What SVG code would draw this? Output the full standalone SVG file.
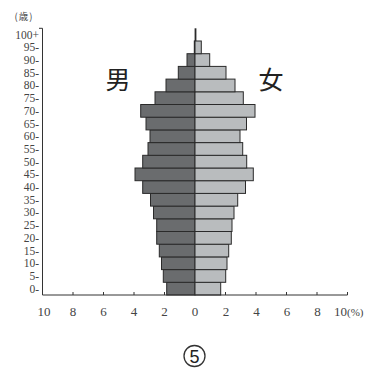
<svg xmlns="http://www.w3.org/2000/svg" width="372" height="374" viewBox="0 0 372 374">
<style>
.m{fill:#6a6c6e;stroke:#2a2a2a;stroke-width:1}
.f{fill:#b9bcbe;stroke:#2a2a2a;stroke-width:1}
.ax{stroke:#333;stroke-width:1;fill:none}
.age{font-family:"Liberation Serif",serif;font-size:11.5px;fill:#444;text-anchor:end}
.xl{font-family:"Liberation Serif",serif;font-size:13px;fill:#444;text-anchor:middle}
.big{font-family:"Noto Sans CJK JP",sans-serif;font-size:25px;fill:#222;text-anchor:middle}
</style>
<rect width="372" height="374" fill="#fff"/>
<g id="bars">
<rect class="m" x="166.7" y="282.3" width="28.3" height="12.7"/><rect class="f" x="195" y="282.3" width="25.7" height="12.7"/>
<rect class="m" x="163.3" y="269.6" width="31.7" height="12.7"/><rect class="f" x="195" y="269.6" width="30.7" height="12.7"/>
<rect class="m" x="161.5" y="256.9" width="33.5" height="12.7"/><rect class="f" x="195" y="256.9" width="32" height="12.7"/>
<rect class="m" x="159.3" y="244.2" width="35.7" height="12.7"/><rect class="f" x="195" y="244.2" width="33.7" height="12.7"/>
<rect class="m" x="156.7" y="231.5" width="38.3" height="12.7"/><rect class="f" x="195" y="231.5" width="36.3" height="12.7"/>
<rect class="m" x="156.7" y="218.8" width="38.3" height="12.7"/><rect class="f" x="195" y="218.8" width="37" height="12.7"/>
<rect class="m" x="153.5" y="206.1" width="41.5" height="12.7"/><rect class="f" x="195" y="206.1" width="39" height="12.7"/>
<rect class="m" x="150.5" y="193.4" width="44.5" height="12.7"/><rect class="f" x="195" y="193.4" width="42.7" height="12.7"/>
<rect class="m" x="142.7" y="180.7" width="52.3" height="12.7"/><rect class="f" x="195" y="180.7" width="50.5" height="12.7"/>
<rect class="m" x="135" y="168" width="60" height="12.7"/><rect class="f" x="195" y="168" width="58.3" height="12.7"/>
<rect class="m" x="142.7" y="155.3" width="52.3" height="12.7"/><rect class="f" x="195" y="155.3" width="51.7" height="12.7"/>
<rect class="m" x="148" y="142.6" width="47" height="12.7"/><rect class="f" x="195" y="142.6" width="47.7" height="12.7"/>
<rect class="m" x="150" y="129.9" width="45" height="12.7"/><rect class="f" x="195" y="129.9" width="45" height="12.7"/>
<rect class="m" x="146" y="117.2" width="49" height="12.7"/><rect class="f" x="195" y="117.2" width="51.5" height="12.7"/>
<rect class="m" x="140.7" y="104.5" width="54.3" height="12.7"/><rect class="f" x="195" y="104.5" width="60" height="12.7"/>
<rect class="m" x="155" y="91.8" width="40" height="12.7"/><rect class="f" x="195" y="91.8" width="48.3" height="12.7"/>
<rect class="m" x="166" y="79.1" width="29" height="12.7"/><rect class="f" x="195" y="79.1" width="40" height="12.7"/>
<rect class="m" x="178.3" y="66.4" width="16.7" height="12.7"/><rect class="f" x="195" y="66.4" width="31" height="12.7"/>
<rect class="m" x="187" y="53.7" width="8" height="12.7"/><rect class="f" x="195" y="53.7" width="14.7" height="12.7"/>
<rect class="m" x="194.3" y="41" width="0.7" height="12.7"/><rect class="f" x="195" y="41" width="6.3" height="12.7"/>
<rect x="194.6" y="28.3" width="1.8" height="12.7" fill="#2a2a2a"/>
</g>
<g id="axes">
<path class="ax" d="M39 28.3H42.5V295H347.5"/>
<path class="ax" d="M42.5 295v-3M73 295v-3M103.5 295v-3M134 295v-3M164.5 295v-3M225.5 295v-3M256 295v-3M286.5 295v-3M317 295v-3M347.5 295v-3"/>
</g>
<g id="ylabels">
<text class="age" x="24" y="20" style="text-anchor:middle;font-family:'Noto Sans CJK JP',sans-serif;font-size:9.5px;letter-spacing:1px">(歳)</text>
<text class="age" x="39" y="38.6">100+</text>
<text class="age" x="39" y="51.3">95-</text>
<text class="age" x="39" y="64">90-</text>
<text class="age" x="39" y="76.7">85-</text>
<text class="age" x="39" y="89.4">80-</text>
<text class="age" x="39" y="102.1">75-</text>
<text class="age" x="39" y="114.8">70-</text>
<text class="age" x="39" y="127.5">65-</text>
<text class="age" x="39" y="140.2">60-</text>
<text class="age" x="39" y="152.9">55-</text>
<text class="age" x="39" y="165.6">50-</text>
<text class="age" x="39" y="178.3">45-</text>
<text class="age" x="39" y="191">40-</text>
<text class="age" x="39" y="203.7">35-</text>
<text class="age" x="39" y="216.4">30-</text>
<text class="age" x="39" y="229.1">25-</text>
<text class="age" x="39" y="241.8">20-</text>
<text class="age" x="39" y="254.5">15-</text>
<text class="age" x="39" y="267.2">10-</text>
<text class="age" x="39" y="279.9">5-</text>
<text class="age" x="39" y="292.6">0-</text>
</g>
<g id="xlabels">
<text class="xl" x="44" y="316">10</text>
<text class="xl" x="73" y="316">8</text>
<text class="xl" x="103.5" y="316">6</text>
<text class="xl" x="134" y="316">4</text>
<text class="xl" x="164.5" y="316">2</text>
<text class="xl" x="195" y="316">0</text>
<text class="xl" x="226" y="316">2</text>
<text class="xl" x="256.5" y="316">4</text>
<text class="xl" x="287" y="316">6</text>
<text class="xl" x="317.5" y="316">8</text>
<text class="xl" x="334" y="316" style="text-anchor:start">10<tspan font-size="11">(%)</tspan></text>
</g>
<g id="male"><text class="big" x="118" y="89">男</text></g>
<g id="female"><text class="big" x="271" y="89">女</text></g>
<g id="label">
<circle cx="194.5" cy="356" r="10.5" fill="none" stroke="#333" stroke-width="1.3"/>
<text x="194.5" y="362.5" style="font-family:'Liberation Sans',sans-serif;font-size:18px;fill:#222;text-anchor:middle">5</text>
</g>
</svg>
